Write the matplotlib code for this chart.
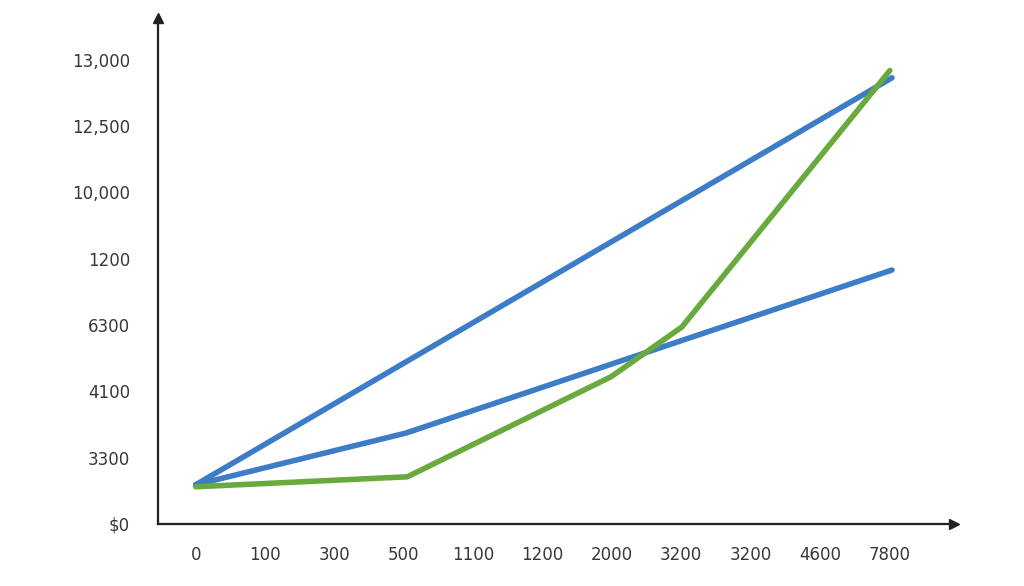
import numpy as np
import matplotlib.pyplot as plt

# tick labels (categorical, evenly spaced positions)
x_labels = ['0', '100', '300', '500', '1100', '1200', '2000', '3200', '3200', '4600', '7800']
y_labels = ['$0', '3300', '4100', '6300', '1200', '10,000', '12,500', '13,000']

# series, in tick-position units
blue_top_x = [0, 10.04]
blue_top_y = [0.59, 6.73]

blue_low_x = [0, 3.03, 10.04]
blue_low_y = [0.59, 1.37, 3.83]

green_x = [0, 3.05, 5.99, 7.01, 10.01]
green_y = [0.56, 0.71, 2.22, 2.97, 6.84]

blue = '#3d7cc7'
green = '#69aa3f'
axis_col = '#222222'
text_col = '#383838'

fig = plt.figure(figsize=(10.24, 5.86), dpi=100)
ax = fig.add_axes([0.154, 0.106, 0.778, 0.863])

ax.plot(blue_top_x, blue_top_y, color=blue, lw=4, solid_capstyle='round')
ax.plot(blue_low_x, blue_low_y, color=blue, lw=4, solid_capstyle='round')
ax.plot(green_x, green_y, color=green, lw=4, solid_capstyle='round')

ax.set_xlim(-0.548, 10.94)
ax.set_ylim(0, 7.63)

ax.set_xticks(np.arange(len(x_labels)))
ax.set_xticklabels(x_labels)
ax.set_yticks(np.arange(len(y_labels)))
ax.set_yticklabels(y_labels)
ax.tick_params(axis='both', length=0, labelsize=12, colors=text_col)
ax.tick_params(axis='x', pad=16)
ax.tick_params(axis='y', pad=20)

for s in ['top', 'right']:
    ax.spines[s].set_visible(False)
for s in ['left', 'bottom']:
    ax.spines[s].set_color(axis_col)
    ax.spines[s].set_linewidth(1.6)

# arrow heads
ax.plot(1, 0, '>', color=axis_col, ms=7, transform=ax.transAxes, clip_on=False)
ax.plot(0, 1, '^', color=axis_col, ms=7, transform=ax.transAxes, clip_on=False)

fig.savefig('out.png', dpi=100)
